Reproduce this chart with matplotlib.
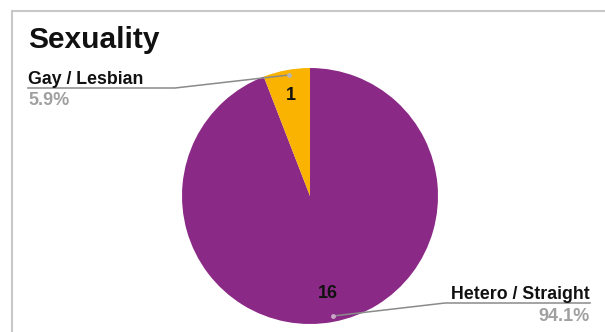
import matplotlib
matplotlib.use("Agg")
from matplotlib import pyplot as plt
from matplotlib.patches import Rectangle

plt.rcParams['font.family'] = ['Liberation Sans', 'DejaVu Sans']

categories = ["Hetero / Straight", "Gay / Lesbian"]
counts = [16, 1]
percents = ["94.1%", "5.9%"]
colors = ["#8b2a86", "#f9b300"]

W, H = 605, 332
fig = plt.figure(figsize=(W / 100, H / 100), dpi=100)
ax = fig.add_axes([0, 0, 1, 1])

# pie drawn in pixel-like coordinates (y up)
cx, cy, r = 310, H - 196, 128
ax.pie(counts, colors=colors, startangle=90, counterclock=False,
       center=(cx, cy), radius=r, wedgeprops=dict(linewidth=0))
ax.set_xlim(0, W)
ax.set_ylim(0, H)
ax.set_aspect('auto')
ax.axis('off')

# card frame
ax.add_patch(Rectangle((11.5, -5), W, H - 10.5 + 5, fill=False,
                       edgecolor='#c8c8c8', linewidth=1.5, zorder=0))

ax.text(28, H - 48, "Sexuality", fontsize=21.5, fontweight='bold',
        color='#111111', ha='left', va='baseline')

# slice values
ax.text(291, H - 96, str(counts[1]), fontsize=13, fontweight='bold',
        ha='center', va='center', color='#111111')
ax.text(328, H - 293, str(counts[0]), fontsize=13, fontweight='bold',
        ha='center', va='center', color='#111111')

line_c = '#8a8a8a'
# Gay / Lesbian leader
ax.plot([28, 175, 289], [H - 88, H - 88, H - 75], color=line_c, lw=1.1)
ax.plot([289], [H - 75], 'o', ms=3.5, color='#b5b5b5', mec='none')
ax.text(28, H - 84, categories[1], fontsize=12.8, fontweight='bold',
        color='#111111', ha='left', va='baseline')
ax.text(28, H - 105, percents[1], fontsize=13, fontweight='bold',
        color='#a0a0a0', ha='left', va='baseline')

# Hetero / Straight leader
ax.plot([590, 445, 333], [H - 303, H - 303, H - 316], color=line_c, lw=1.1)
ax.plot([333], [H - 316], 'o', ms=3.5, color='#c9a8c7', mec='none')
ax.text(590, H - 299, categories[0], fontsize=12.8, fontweight='bold',
        color='#111111', ha='right', va='baseline')
ax.text(590, H - 321, percents[0], fontsize=13, fontweight='bold',
        color='#a0a0a0', ha='right', va='baseline')

fig.savefig("out.png", dpi=100)
